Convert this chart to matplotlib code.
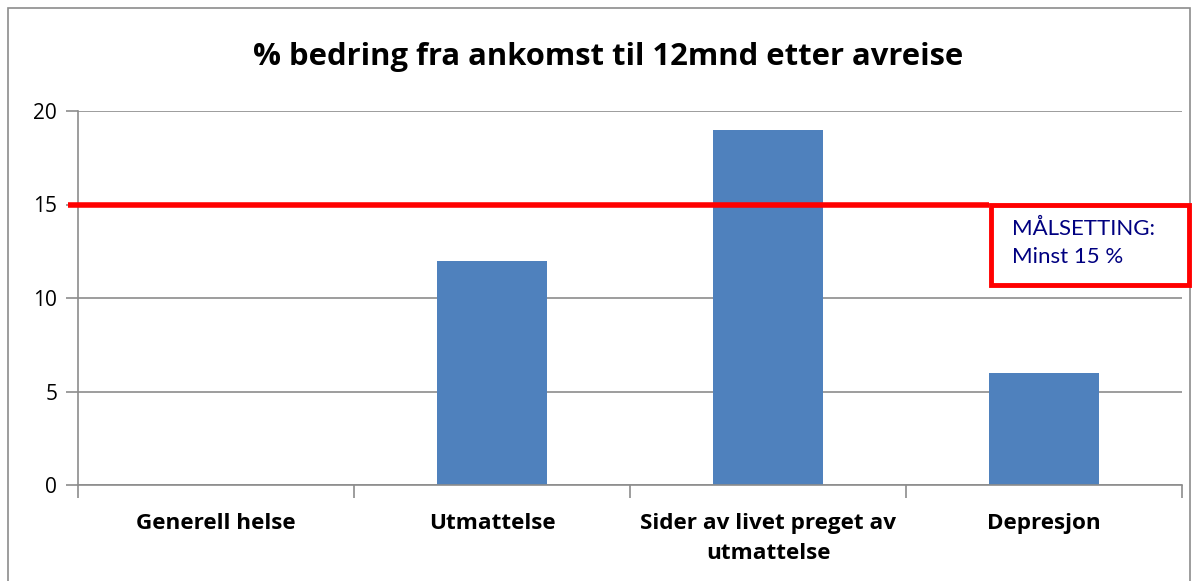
import matplotlib.pyplot as plt
from matplotlib.patches import Rectangle

# Data
categories = ["Generell helse", "Utmattelse", "Sider av livet preget av\nutmattelse", "Depresjon"]
values = [0, 12, 19, 6]
target = 15
yticks = [0, 5, 10, 15, 20]

W, H = 1197, 581
fig = plt.figure(figsize=(W / 100, H / 100), dpi=100)
plt.rcParams['font.family'] = ['Open Sans', 'DejaVu Sans']

# Outer chart border
fig.add_artist(Rectangle((8 / W, -0.05), (1190 - 8) / W, 1.05 - 8 / H,
                         transform=fig.transFigure, fill=False,
                         edgecolor="#8c8c8c", linewidth=1.2))

ax = fig.add_axes([78 / W, 1 - 485 / H, (1182 - 78) / W, (485 - 111) / H])

x = list(range(len(categories)))
ax.bar(x, values, width=0.395, color="#4f81bd", zorder=2)

ax.set_xlim(-0.5, len(categories) - 0.5)
ax.set_ylim(0, 20)
ax.set_yticks(yticks)
ax.set_yticklabels([str(v) for v in yticks], fontsize=15)
ax.yaxis.grid(True, color="#8c8c8c", linewidth=1.2, zorder=0)
ax.set_axisbelow(True)

# category boundary ticks
ax.set_xticks([i - 0.5 for i in range(len(categories) + 1)])
ax.set_xticklabels([])
ax.set_xticks(x, minor=True)
ax.set_xticklabels(categories, minor=True, fontsize=16.2, fontweight="bold",
                   linespacing=1.55)
ax.tick_params(axis="x", which="minor", length=0, pad=20)
ax.tick_params(axis="x", which="major", length=9, color="#8c8c8c", width=1.2)
ax.tick_params(axis="y", length=9, color="#8c8c8c", width=1.2, pad=6)

for s in ["top", "right"]:
    ax.spines[s].set_visible(False)
for s in ["left", "bottom"]:
    ax.spines[s].set_color("#8c8c8c")
    ax.spines[s].set_linewidth(1.2)

# target line
ax.plot([-0.535, 2.8], [target, target], color="#ff0000", linewidth=4,
        clip_on=False, zorder=3, solid_capstyle="butt")

# goal box
fig.add_artist(Rectangle((991 / W, 1 - 285 / H), (1189 - 991) / W, (285 - 205) / H,
                         transform=fig.transFigure, facecolor="white",
                         edgecolor="#ff0000", linewidth=3.5, zorder=5))
fig.text(1012 / W, 1 - 229 / H, "MÅLSETTING:", color="#000080", fontsize=16,
         va="center", ha="left", family=["Lato", "DejaVu Sans"], zorder=6)
fig.text(1012 / W, 1 - 257 / H, "Minst 15 %", color="#000080", fontsize=16,
         va="center", ha="left", family=["Lato", "DejaVu Sans"], zorder=6)

fig.text(608 / W, 1 - 57 / H, "% bedring fra ankomst til 12mnd etter avreise",
         ha="center", va="center", fontsize=22.3, fontweight="bold")

fig.savefig("out.png", dpi=100)
